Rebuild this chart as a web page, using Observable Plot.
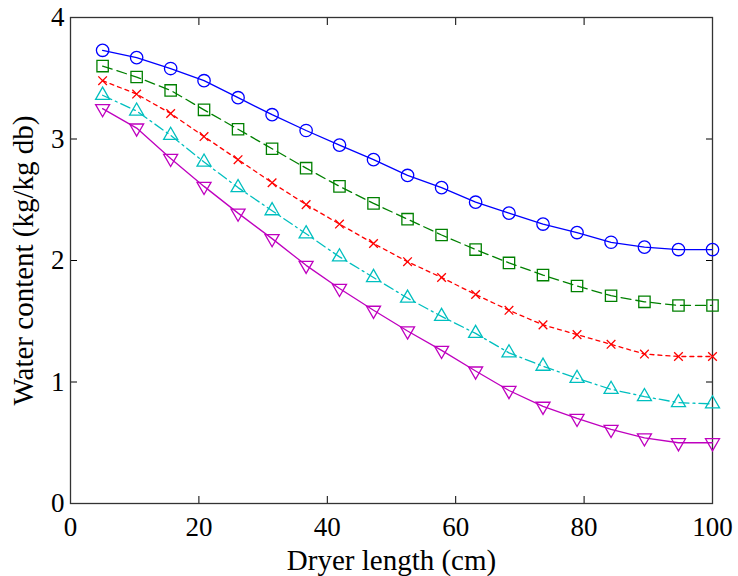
<!DOCTYPE html>
<html>
<head>
<meta charset="utf-8">
<script src="https://cdn.jsdelivr.net/npm/d3@7"></script>
<script src="https://cdn.jsdelivr.net/npm/@observablehq/plot@0.6"></script>
<style>
  html, body { margin: 0; padding: 0; background: #fff; }
</style>
</head>
<body>
<div id="chart"></div>
<script>
// Dryer length positions (cm)
const lengths = [5, 10.3, 15.6, 20.8, 26.1, 31.4, 36.7, 41.9, 47.2, 52.5, 57.8, 63.1, 68.3, 73.6, 78.9, 84.2, 89.4, 94.7, 100];
// Water content series (kg/kg db)
const seriesA = [3.73, 3.67, 3.58, 3.48, 3.34, 3.20, 3.07, 2.95, 2.83, 2.70, 2.60, 2.48, 2.39, 2.30, 2.23, 2.15, 2.11, 2.09, 2.09];
const seriesB = [3.60, 3.51, 3.40, 3.24, 3.08, 2.92, 2.76, 2.61, 2.47, 2.34, 2.21, 2.09, 1.98, 1.88, 1.79, 1.71, 1.66, 1.63, 1.63];
const seriesC = [3.48, 3.37, 3.21, 3.02, 2.83, 2.64, 2.46, 2.30, 2.14, 1.99, 1.86, 1.72, 1.59, 1.47, 1.39, 1.31, 1.23, 1.21, 1.21];
const seriesD = [3.36, 3.23, 3.03, 2.81, 2.60, 2.41, 2.22, 2.03, 1.86, 1.69, 1.54, 1.40, 1.24, 1.13, 1.03, 0.94, 0.88, 0.83, 0.82];
const seriesE = [3.25, 3.09, 2.84, 2.61, 2.39, 2.18, 1.96, 1.77, 1.59, 1.42, 1.26, 1.09, 0.93, 0.80, 0.70, 0.61, 0.54, 0.50, 0.50];
const xTicks = [0, 20, 40, 60, 80, 100];
const yTicks = [0, 1, 2, 3, 4];

const triangleDown = {
  draw(context, size) {
    const y = -Math.sqrt(size / (Math.sqrt(3) * 3));
    context.moveTo(0, -y * 2);
    context.lineTo(-Math.sqrt(3) * y, y);
    context.lineTo(Math.sqrt(3) * y, y);
    context.closePath();
  }
};

const styles = [
  {values: seriesA, color: "#0000ff", dash: null, symbol: "circle", r: 6.2},
  {values: seriesB, color: "#008000", dash: "10,5", symbol: "square", r: 6.4},
  {values: seriesC, color: "#ff0000", dash: "4,4", symbol: "times", r: 4},
  {values: seriesD, color: "#00bfbf", dash: "10,4,2,4", symbol: "triangle", r: 5.2},
  {values: seriesE, color: "#bf00bf", dash: null, symbol: triangleDown, r: 5.2}
];

const serif = "Liberation Serif";
const marks = [];
for (const s of styles) {
  const data = lengths.map((x, i) => ({x, y: s.values[i]}));
  marks.push(Plot.line(data, {x: "x", y: "y", stroke: s.color, strokeWidth: 1.3, strokeDasharray: s.dash}));
  marks.push(Plot.dot(data, {x: "x", y: "y", stroke: s.color, strokeWidth: 1.3, fill: "none", symbol: s.symbol, r: s.r}));
}

const chart = Plot.plot({
  width: 738,
  height: 576,
  marginLeft: 70,
  marginRight: 26,
  marginTop: 17,
  marginBottom: 73,
  style: "font-family: 'Liberation Serif', serif; font-size: 27px; color: #000; background: #fff;",
  x: {domain: [0, 100]},
  y: {domain: [0, 4]},
  marks: [
    Plot.axisX({anchor: "bottom", ticks: xTicks, tickFormat: d => String(d), tickSize: -7, tickPadding: 20, label: null, fontFamily: serif, fontSize: 27}),
    Plot.axisX({anchor: "bottom", ticks: [], label: "Dryer length (cm)", labelAnchor: "center", labelArrow: "none", labelOffset: 66, fontFamily: serif, fontSize: 29}),
    Plot.axisX({anchor: "top", ticks: xTicks, tickSize: -7, tickFormat: () => "", label: null}),
    Plot.axisY({anchor: "left", ticks: yTicks, tickFormat: d => String(d), tickSize: -7, tickPadding: 13, label: null, fontFamily: serif, fontSize: 27}),
    Plot.axisY({anchor: "left", ticks: [], label: "Water content (kg/kg db)", labelAnchor: "center", labelArrow: "none", labelOffset: 58, fontFamily: serif, fontSize: 29}),
    Plot.axisY({anchor: "right", ticks: yTicks, tickSize: -7, tickFormat: () => "", label: null}),
    Plot.frame({stroke: "#333", strokeWidth: 1.3}),
    ...marks
  ]
});
document.getElementById("chart").appendChild(chart);
</script>
</body>
</html>
